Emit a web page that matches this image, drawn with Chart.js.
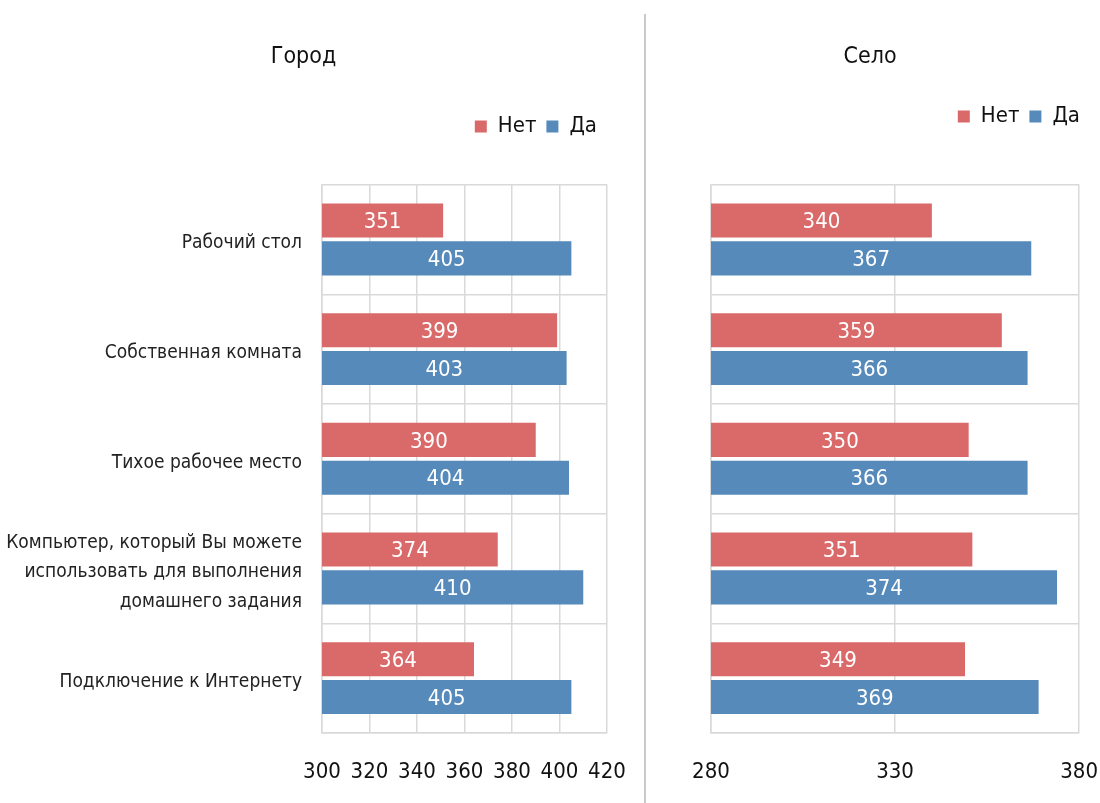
<!DOCTYPE html>
<html>
<head>
<meta charset="utf-8">
<script src="https://cdn.jsdelivr.net/npm/chart.js@4.4.1/dist/chart.umd.min.js"></script>
<style>
  body { margin: 0; background: #fff; width: 1100px; height: 803px; position: relative; overflow: hidden; }
  #city { position: absolute; left: 0; top: 0; }
  #village { position: absolute; left: 650px; top: 0; }
  #sep { position: absolute; left: 644px; top: 14px; width: 2px; height: 789px; background: #c9c9c9; }
</style>
</head>
<body>
<canvas id="city" width="640" height="803"></canvas>
<div id="sep"></div>
<canvas id="village" width="450" height="803"></canvas>
<script>
const categories = [
  "Рабочий стол",
  "Собственная комната",
  "Тихое рабочее место",
  ["Компьютер, который Вы можете", "использовать для выполнения", "домашнего задания"],
  "Подключение к Интернету"
]
const seriesNames = ["Нет", "Да"]
const cityNo = [351, 399, 390, 374, 364]
const cityYes = [405, 403, 404, 410, 405]
const villageNo = [340, 359, 350, 351, 349]
const villageYes = [367, 366, 366, 374, 369]
const cityTicks = [300, 320, 340, 360, 380, 400, 420]
const villageTicks = [280, 330, 380]

const FONT = "'DejaVu Sans Condensed', 'Liberation Sans Narrow', sans-serif"
const RED = "#da6a69"
const BLUE = "#558abb"
const GRID = "#d9d9d9"

// keeps a gap between the legend and the plot area
const legendGap = {
  id: "legendGap",
  afterInit(chart, args, opts) {
    const lg = chart.legend
    const fit = lg.fit
    lg.fit = function () {
      fit.call(this)
      this.height += opts.extra || 0
    }
  },
}

// white value labels centred inside each bar
const barValues = {
  id: "barValues",
  afterDatasetsDraw(chart) {
    const ctx = chart.ctx
    const left = chart.chartArea.left
    ctx.save()
    ctx.fillStyle = "#fff"
    ctx.font = "22px " + FONT
    ctx.textAlign = "center"
    ctx.textBaseline = "middle"
    chart.data.datasets.forEach((ds, i) => {
      chart.getDatasetMeta(i).data.forEach((bar, j) => {
        const start = Math.max(bar.base, left)
        ctx.fillText(ds.data[j], (bar.x + start) / 2, bar.y + 2)
      })
    })
    ctx.restore()
  },
}

function makeChart(id, title, no, yes, ticks, o) {
  return new Chart(document.getElementById(id), {
    type: "bar",
    data: {
      labels: categories,
      datasets: [
        { label: seriesNames[0], data: no, backgroundColor: RED },
        { label: seriesNames[1], data: yes, backgroundColor: BLUE },
      ],
    },
    plugins: [legendGap, barValues],
    options: {
      indexAxis: "y",
      responsive: false,
      animation: false,
      categoryPercentage: 0.69,
      barPercentage: 0.9,
      layout: { padding: { left: 0, right: o.padRight, top: 0, bottom: 0 } },
      scales: {
        x: {
          min: ticks[0],
          max: ticks[ticks.length - 1],
          ticks: {
            stepSize: ticks[1] - ticks[0],
            color: "#111",
            font: { family: FONT, size: 22 },
            padding: 2,
            maxRotation: 0,
            autoSkip: false,
          },
          grid: { color: GRID, lineWidth: 1.5, tickLength: 24, tickColor: "rgba(0,0,0,0)" },
          border: { color: GRID, width: 1.5 },
          afterFit: (s) => { s.height = 70 },
        },
        y: {
          ticks: {
            display: o.showLabels,
            color: "#222",
            font: { family: FONT, size: 19, lineHeight: 1.55 },
            padding: 20,
            labelOffset: 4,
          },
          grid: { color: GRID, lineWidth: 1.5, drawTicks: false },
          border: { color: GRID, width: 1.5 },
          afterFit: (s) => { s.width = o.axisWidth },
        },
      },
      plugins: {
        title: {
          display: true,
          text: title,
          color: "#111",
          font: { family: FONT, size: 23, weight: "normal" },
          padding: { top: 43, bottom: o.titleBottom },
        },
        legend: {
          align: "end",
          labels: {
            color: "#111",
            font: { family: FONT, size: 22 },
            boxWidth: 12,
            boxHeight: 12,
            padding: 10,
          },
        },
        legendGap: { extra: o.legendExtra },
        tooltip: { enabled: false },
      },
    },
  })
}

makeChart("city", "Город", cityNo, cityYes, cityTicks, {
  padRight: 33, axisWidth: 322, showLabels: true, titleBottom: 35, legendExtra: 37,
})
makeChart("village", "Село", villageNo, villageYes, villageTicks, {
  padRight: 10, axisWidth: 61, showLabels: false, titleBottom: 25, legendExtra: 47,
})
</script>
</body>
</html>
